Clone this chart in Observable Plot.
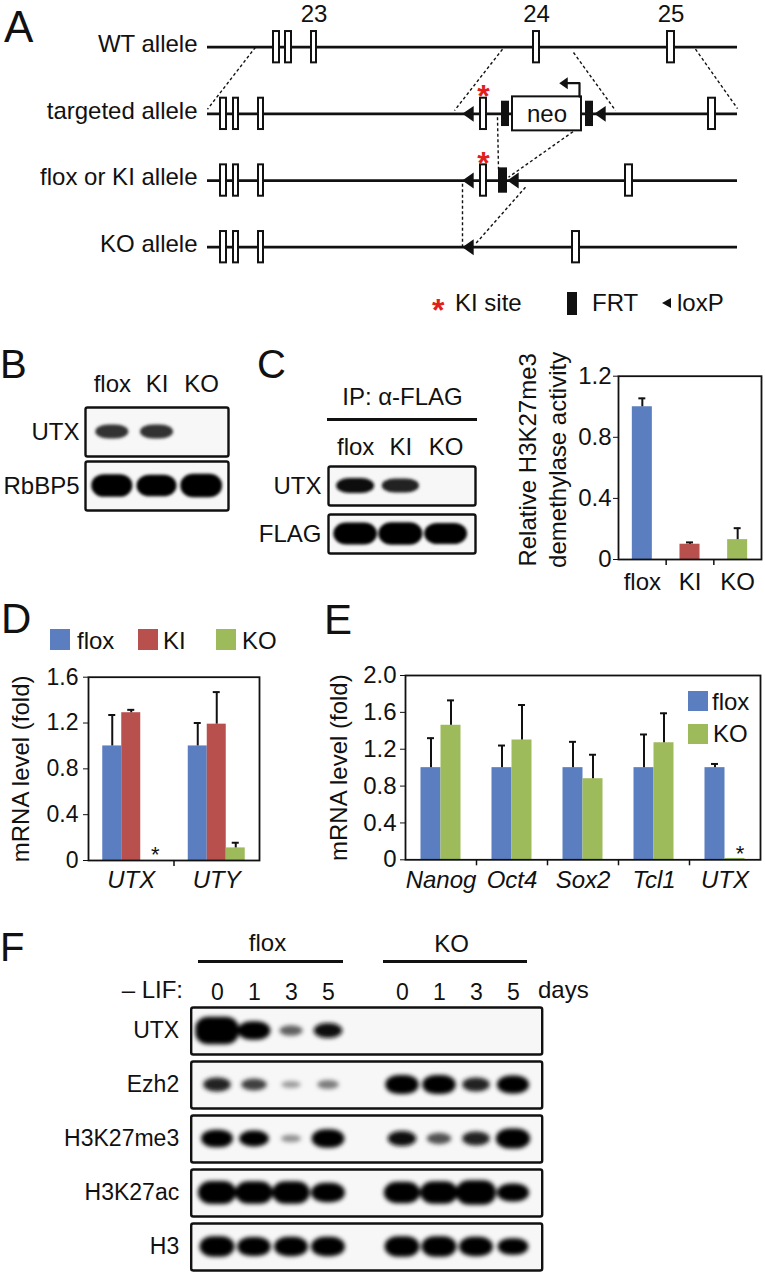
<!DOCTYPE html>
<html><head><meta charset="utf-8">
<script src="https://cdn.jsdelivr.net/npm/d3@7"></script>
<script src="https://cdn.jsdelivr.net/npm/@observablehq/plot@0.6"></script>
<style>
body{margin:0;background:#fff;}
#fig{position:relative;width:765px;height:1274px;overflow:hidden;background:#fff;font-family:"Liberation Sans",Arial,Helvetica,sans-serif;color:#111;}
.abs{position:absolute;white-space:nowrap;line-height:1;}
.plot{position:absolute;}
.plot svg{overflow:visible;}
</style></head><body><div id="fig"></div>
<script>
// ================= DATA =================
// Panel A: schematic positions along the locus (arbitrary units, 0..530)
const alleles = ["WT allele", "targeted allele", "flox or KI allele", "KO allele"];
const exonRow  = [0,0,0,0,0, 1,1,1,1,1, 2,2,2,2,2, 3,3,3,3];
const exonFrom = [66,78,104,326,460, 13,26,51,273,501, 13,26,51,273,418, 13,26,51,365];
const exonTo   = [72,84,109,332,467, 19,31,56,279,508, 19,31,56,279,425, 19,31,56,372];
const exonNumbers = ["23","24","25"];
const exonNumberExon = [2,3,4];
const frtRow = [1,1,2], frtFrom = [294,378,291], frtTo = [302,386,300];
const loxRow = [1,1,2,2,3], loxAt = [260.5,392.5,260.5,305.5,260.5];
const kiRow = [1,2], kiAt = [276,276];
const neoRow = [1], neoFrom = [305], neoTo = [374];
const promoterX = [372,372,356], promoterY = [0.74,0.54,0.54];
const dashX1 = [48,295,366,488,290,370,255,318];
const dashY1 = [0.0,0.03,0.08,0.03,1.05,1.22,2.05,2.1];
const dashX2 = [0,247,408,530,291,301,255,268];
const dashY2 = [0.93,0.95,0.95,0.92,1.83,1.95,3.0,2.95];
const legendA = ["KI site","FRT","loxP"];

// Panel B blot
const bLanes = ["flox","KI","KO"];
const bRows = ["UTX","RbBP5"];
const bSignal = [[0.45,0.45,0],[0.85,0.8,0.88]];

// Panel C blot + activity
const cLanes = ["flox","KI","KO"];
const cRows = ["UTX","FLAG"];
const cSignal = [[0.55,0.5,0],[0.9,0.92,0.85]];
const cCats = ["flox","KI","KO"];
const cActivity = [1.0,0.10,0.13];
const cActivityErr = [0.055,0.012,0.075];

// Panel D
const dGenes = ["UTX","UTY"];
const dSeries = ["flox","KI","KO"];
const dFlox = [1.0,1.0], dKI = [1.29,1.19], dKO = [0,0.11];
const dFloxErr = [0.27,0.2], dKIErr = [0.025,0.28], dKOErr = [0,0.045];

// Panel E
const eGenes = ["Nanog","Oct4","Sox2","Tcl1","UTX"];
const eSeries = ["flox","KO"];
const eFlox = [1,1,1,1,1], eKO = [1.46,1.3,0.88,1.27,0.015];
const eFloxErr = [0.32,0.24,0.28,0.36,0.04], eKOErr = [0.27,0.38,0.26,0.32,0];

// Panel F blot
const fRows = ["UTX","Ezh2","H3K27me3","H3K27ac","H3"];
const fGenotypes = ["flox","KO"];
const fDays = ["0","1","3","5"];
const fSignal = [
  [1.25,0.75,0.3,0.55, 0,0,0,0],
  [0.5,0.4,0.12,0.22, 0.78,0.78,0.5,0.72],
  [0.7,0.6,0.15,0.75, 0.55,0.35,0.5,0.82],
  [1.0,0.98,0.98,0.8, 0.92,0.98,1.08,0.72],
  [0.85,0.78,0.8,0.8, 0.85,0.85,0.8,0.65]
];

const colFlox = "#5b7ec0", colKI = "#b8504e", colKO = "#9dbb5b";
const RED = "#e0201b";

// ================= HELPERS =================
const FONT = '"Liberation Sans", Arial, Helvetica, sans-serif';
const INK = "#111";
const fig = document.getElementById("fig");
const baseStyle = {background: "transparent", fontFamily: FONT, fontSize: "24px", color: INK, overflow: "visible"};

function place(svg, left, top, w) {
  const d = document.createElement("div");
  d.className = "plot";
  d.style.left = left + "px"; d.style.top = top + "px"; d.style.width = w + "px";
  d.appendChild(svg); fig.appendChild(d);
}
function label(txt, x, yc, o = {}) {
  const size = o.size || 24;
  const el = document.createElement("div");
  el.className = "abs";
  el.textContent = txt;
  el.style.left = x + "px";
  el.style.top = (yc - 0.4885 * size) + "px";
  el.style.fontSize = size + "px";
  if (o.color) el.style.color = o.color;
  if (o.weight) el.style.fontWeight = o.weight;
  if (o.italic) el.style.fontStyle = "italic";
  if (o.anchor === "middle") el.style.transform = "translateX(-50%)";
  if (o.anchor === "end") el.style.transform = "translateX(-100%)";
  fig.appendChild(el);
}
function block(x, y, w, h, color) {
  const el = document.createElement("div");
  el.className = "abs";
  Object.assign(el.style, {left: x + "px", top: y + "px", width: w + "px", height: h + "px", background: color});
  fig.appendChild(el);
}
function axisFont(svg, prefix, size, italic) {
  d3.select(svg).selectAll(`g[aria-label^="${prefix}"] text`).each(function() {
    this.style.fontSize = size + "px";
    this.style.fontFamily = FONT;
    if (italic) this.style.fontStyle = "italic";
  });
}
const leftTri = {draw(ctx, size) {
  const s = Math.sqrt(size);
  ctx.moveTo(-0.5 * s, 0); ctx.lineTo(0.5 * s, -0.7 * s); ctx.lineTo(0.5 * s, 0.7 * s); ctx.closePath();
}};

// ================= PANEL A =================
const exons = exonRow.map((r, i) => ({row: r, x1: exonFrom[i], x2: exonTo[i]}));
const frts = frtRow.map((r, i) => ({row: r, x1: frtFrom[i], x2: frtTo[i]}));
const loxes = loxRow.map((r, i) => ({row: r, x: loxAt[i]}));
const kis = kiRow.map((r, i) => ({row: r, x: kiAt[i]}));
const neos = neoRow.map((r, i) => ({row: r, x1: neoFrom[i], x2: neoTo[i]}));
const promoter = promoterX.map((x, i) => ({x, y: promoterY[i]}));
const dashes = dashX1.map((x, i) => ({x1: x, y1: dashY1[i], x2: dashX2[i], y2: dashY2[i]}));
const wtExons = exons.filter(d => d.row === 0);
const numbers = exonNumbers.map((t, i) => ({t, x: (wtExons[exonNumberExon[i]].x1 + wtExons[exonNumberExon[i]].x2) / 2}));

const plotA = Plot.plot({
  width: 765, height: 330, marginLeft: 207, marginRight: 28, marginTop: 0, marginBottom: 0,
  style: baseStyle,
  x: {domain: [0, 530], axis: null},
  y: {domain: [0, 3], range: [46.7, 246.7], axis: null},
  marks: [
    Plot.link(dashes, {x1: "x1", y1: "y1", x2: "x2", y2: "y2", stroke: INK, strokeWidth: 1.4, strokeDasharray: "3,2.5"}),
    Plot.ruleY(alleles.map((d, i) => i), {y: d => d, x1: 0, x2: 530, stroke: INK, strokeWidth: 2.8}),
    Plot.text(alleles, {y: (d, i) => i, text: d => d, frameAnchor: "left", dx: -10, dy: -3, textAnchor: "end", fontSize: 24, fill: INK}),
    Plot.rect(exons, {x1: "x1", x2: "x2", y1: d => d.row - 0.235, y2: d => d.row + 0.235, fill: "white", stroke: INK, strokeWidth: 2}),
    Plot.rect(frts, {x1: "x1", x2: "x2", y1: d => d.row - 0.19, y2: d => d.row + 0.19, fill: INK}),
    Plot.rect(neos, {x1: "x1", x2: "x2", y1: d => d.row - 0.255, y2: d => d.row + 0.255, fill: "white", stroke: INK, strokeWidth: 2}),
    Plot.text(neos, {x: d => (d.x1 + d.x2) / 2, y: "row", text: () => "neo", fontSize: 24, fill: INK}),
    Plot.line(promoter, {x: "x", y: "y", stroke: INK, strokeWidth: 2.2}),
    Plot.dot(promoter.slice(-1), {x: "x", y: "y", symbol: leftTri, r: 4.8, fill: INK}),
    Plot.dot(loxes, {x: "x", y: "row", symbol: leftTri, r: 6.4, fill: INK}),
    Plot.text(kis, {x: "x", y: d => d.row - 0.256, text: () => "*", fontSize: 32, fontWeight: "bold", fill: RED}),
    Plot.text(numbers, {x: "x", y: -0.49, text: "t", fontSize: 24, fill: INK})
  ]
});
place(plotA, 0, 0, 765);

// Legend for A
label("*", 432, 303 + 0.215 * 32, {size: 32, color: RED, weight: "bold"});
label(legendA[0], 455, 303);
block(567, 292, 10, 23, INK);
label(legendA[1], 592, 303);
(() => {
  const t = document.createElement("div");
  t.className = "abs";
  Object.assign(t.style, {left: "662px", top: "297.5px", width: 0, height: 0,
    borderTop: "5.5px solid transparent", borderBottom: "5.5px solid transparent", borderRight: "9px solid " + INK});
  fig.appendChild(t);
})();
label(legendA[2], 677, 303);

// ================= BLOTS =================
function blot(o) {
  const bands = [];
  o.rows.forEach((r, ri) => o.signal[ri].forEach((v, li) => { if (v > 0) bands.push({row: r, x: o.lanePos[li], v}); }));
  const wU = v => (o.w0 + o.w1 * v) / o.laneStep;
  const hU = v => (o.h0 + o.h1 * v) / o.boxH;
  const shade = v => d3.interpolateRgb("#dcdcdc", "#050505")(Math.min(1, 0.12 + 1.5 * v));
  const svg = Plot.plot({
    width: o.width, height: o.height,
    marginLeft: o.mL, marginRight: o.mR, marginTop: o.mT, marginBottom: o.mB,
    style: baseStyle,
    x: {domain: o.xDomain, axis: "top", ticks: o.lanePos, tickFormat: d => o.laneLabels[o.lanePos.indexOf(d)], tickSize: 0, tickPadding: o.padX, label: null},
    y: {domain: [0, 1], axis: null},
    fy: {domain: o.rows, axis: "left", paddingInner: o.pad, paddingOuter: 0, tickSize: 0, tickPadding: o.padY, label: null},
    facet: {data: bands, y: "row"},
    marks: [
      Plot.frame({fill: "#f7f7f7", stroke: INK, strokeWidth: 2.4, rx: 2}),
      Plot.rect(bands, {
        x1: d => d.x - wU(d.v) / 2, x2: d => d.x + wU(d.v) / 2,
        y1: d => 0.5 - hU(d.v) / 2, y2: d => 0.5 + hU(d.v) / 2,
        fill: d => shade(d.v), rx: 13, ry: 11
      })
    ]
  });
  const s = d3.select(svg);
  const defs = s.insert("defs", ":first-child");
  defs.append("filter").attr("id", o.id).attr("x", "-30%").attr("y", "-80%").attr("width", "160%").attr("height", "260%")
    .append("feGaussianBlur").attr("stdDeviation", o.blur);
  s.selectAll('g[aria-label="rect"]').attr("filter", `url(#${o.id})`);
  axisFont(svg, "x-axis", o.fsX, false);
  axisFont(svg, "fy-axis", o.fsY, false);
  return svg;
}

// Panel B
place(blot({
  id: "blurB", rows: bRows, signal: bSignal, lanePos: [0, 1, 2], laneLabels: bLanes, xDomain: [-0.6, 2.6],
  width: 240, height: 190, mL: 85, mR: 12, mT: 77, mB: 10, pad: 0.0926, padX: 16, padY: 6,
  laneStep: 44.7, boxH: 49, w0: 24, w1: 20, h0: 4, h1: 22, blur: 1.6, fsX: 24, fsY: 24
}), 0, 330, 240);

// Panel C blot
place(blot({
  id: "blurC", rows: cRows, signal: cSignal, lanePos: [0, 1, 2], laneLabels: cLanes, xDomain: [-0.6, 2.65],
  width: 235, height: 140, mL: 78, mR: 10, mT: 46, mB: 7, pad: 0.1875, padX: 12, padY: 7,
  laneStep: 45, boxH: 39, w0: 29, w1: 16, h0: 4, h1: 20, blur: 1.6, fsX: 24, fsY: 24
}), 250, 420, 235);
label("IP: \u03b1-FLAG", 402.5, 397, {anchor: "middle"});
block(327, 418, 150, 2.5, INK);

// Panel F blot
const fLanePos = [], fLaneLabels = [];
fGenotypes.forEach((g, gi) => fDays.forEach((d, di) => { fLanePos.push(gi * 5 + di); fLaneLabels.push(d); }));
place(blot({
  id: "blurF", rows: fRows, signal: fSignal, lanePos: fLanePos, laneLabels: fLaneLabels, xDomain: [-0.711, 8.776],
  width: 765, height: 309, mL: 190.7, mR: 223.3, mT: 42, mB: 4, pad: 0.13, padX: 8, padY: 12,
  laneStep: 37, boxH: 47, w0: 17, w1: 21, h0: 5, h1: 18, blur: 2, fsX: 23, fsY: 23
}), 0, 965, 765);
label(fGenotypes[0], 267.5, 943, {anchor: "middle"});
label(fGenotypes[1], 451.5, 944, {anchor: "middle"});
block(198, 959.5, 145, 3, INK);
block(383, 959.5, 144, 3, INK);
label("\u2013 LIF:", 183, 990, {anchor: "end"});
label("days", 538, 990);

// ================= BAR CHARTS =================
function barChart(o) {
  const n = o.groups.length, ns = o.series.length;
  const rows = [];
  o.groups.forEach((g, gi) => o.series.forEach((s, si) => rows.push({g, s, gi, si, v: o.values[si][gi], e: o.errors[si][gi]})));
  const cx = d => d.gi + (d.si - (ns - 1) / 2) * o.barW;
  const frameH = o.height - o.mT - o.mB;
  const tickLen = o.yDomain[1] * 6 / frameH;
  const marks = [
    Plot.rect(rows, {x1: d => cx(d) - o.barW / 2, x2: d => cx(d) + o.barW / 2, y1: 0, y2: "v", fill: o.fillBy || "s"}),
    Plot.ruleX(rows.filter(d => d.e > 0), {x: cx, y1: "v", y2: d => d.v + d.e, stroke: INK, strokeWidth: 2}),
    Plot.ruleY(rows.filter(d => d.e > 0), {y: d => d.v + d.e, x1: d => cx(d) - o.cap, x2: d => cx(d) + o.cap, stroke: INK, strokeWidth: 2}),
    Plot.ruleX(d3.range(n - 1).map(i => i + 0.5), {x: d => d, y1: 0, y2: -tickLen, stroke: INK, strokeWidth: 1.5}),
    Plot.frame({stroke: INK, strokeWidth: 1.8}),
    Plot.text([o.yLabel], {text: d => d, frameAnchor: "left", textAnchor: "middle", rotate: -90, dx: o.yLabelDx, dy: o.yLabelDy || 0, fontSize: 24, lineHeight: 1.25, fill: INK})
  ];
  if (o.stars) marks.push(Plot.text(rows.filter(d => o.stars(d)), {x: cx, y: 0, text: () => "*", dy: -6, dx: 5, fontSize: 22, fill: INK}));
  const svg = Plot.plot({
    width: o.width, height: o.height, marginLeft: o.mL, marginRight: o.mR, marginTop: o.mT, marginBottom: o.mB,
    style: baseStyle,
    x: {domain: [-0.5, n - 0.5], ticks: d3.range(n), tickFormat: d => o.groups[d], tickSize: 0, tickPadding: o.padX, label: null},
    y: {domain: o.yDomain, ticks: o.yTicks, tickFormat: d => d === 0 ? "0" : d.toFixed(1), tickSize: 5, tickPadding: o.padY, label: null},
    color: {domain: o.colorDomain || o.series, range: o.colors},
    marks
  });
  axisFont(svg, "x-axis", 24, o.italic);
  axisFont(svg, "y-axis", o.fsY, false);
  return svg;
}

// Panel C activity
place(barChart({
  groups: cCats, series: ["activity"], values: [cActivity], errors: [cActivityErr],
  fillBy: "g", colorDomain: cCats, colors: [colFlox, colKI, colKO],
  width: 295, height: 290, mL: 148, mR: 4, mT: 45.7, mB: 61, barW: 0.42, cap: 0.073,
  yDomain: [0, 1.2], yTicks: [0, 0.4, 0.8, 1.2], padX: 13, padY: 2, fsY: 24,
  yLabel: "Relative H3K27me3\ndemethylase activity", yLabelDx: -77, yLabelDy: -8, italic: false
}), 470, 330, 295);

// Panel D
place(barChart({
  groups: dGenes, series: dSeries, values: [dFlox, dKI, dKO], errors: [dFloxErr, dKIErr, dKOErr], colors: [colFlox, colKI, colKO],
  width: 290, height: 280, mL: 88, mR: 31, mT: 56.7, mB: 40, barW: 0.2222, cap: 0.041,
  yDomain: [0, 1.6], yTicks: [0, 0.4, 0.8, 1.2, 1.6], padX: 10, padY: 5, fsY: 23,
  yLabel: "mRNA level (fold)", yLabelDx: -69, italic: true, stars: d => d.s === "KO" && d.v === 0
}), 0, 620, 290);

// Panel E
place(barChart({
  groups: eGenes, series: eSeries, values: [eFlox, eKO], errors: [eFloxErr, eKOErr], colors: [colFlox, colKO],
  width: 475, height: 280, mL: 115, mR: 5, mT: 55, mB: 40.7, barW: 0.2817, cap: 0.049,
  yDomain: [0, 2.0], yTicks: [0, 0.4, 0.8, 1.2, 1.6, 2.0], padX: 11, padY: 4, fsY: 24,
  yLabel: "mRNA level (fold)", yLabelDx: -68, italic: true, stars: d => d.s === "KO" && d.v < 0.05
}), 290, 620, 475);

// Legends D and E
block(50, 629, 20, 21, colFlox); label(dSeries[0], 77, 641);
block(138, 629, 20, 21, colKI); label(dSeries[1], 163, 641);
block(216, 629, 20, 21, colKO); label(dSeries[2], 242, 641);
block(688, 691, 20, 20, colFlox); label(eSeries[0], 712, 702);
block(688, 724, 20, 20, colKO); label(eSeries[1], 713, 734);

// Panel letters
label("A", 4, 26, {size: 44});
label("B", 0, 363.5, {size: 40});
label("C", 257, 363.5, {size: 40});
label("D", 1, 619, {size: 42});
label("E", 324, 620, {size: 42});
label("F", 0, 947, {size: 40});
</script></body></html>
